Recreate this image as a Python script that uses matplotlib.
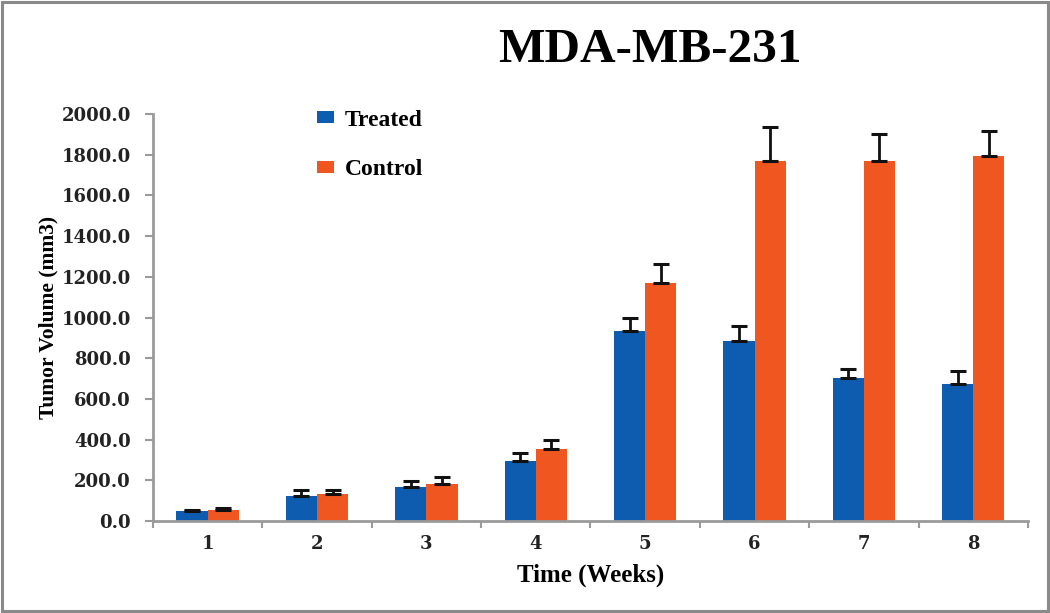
import matplotlib
matplotlib.use('Agg')
from matplotlib import pyplot as plt
from matplotlib.patches import Rectangle
import numpy as np

weeks = ['1', '2', '3', '4', '5', '6', '7', '8']
treated = [47, 125, 166, 297, 936, 887, 703, 673]
treated_err = [8, 30, 30, 36, 62, 70, 42, 62]
control = [56, 132, 180, 352, 1172, 1770, 1770, 1795]
control_err = [8, 23, 34, 48, 90, 165, 131, 123]

blue = '#0d5caf'
orange = '#f0561f'
serif = 'Liberation Serif'
tickfont = 'DejaVu Serif'

fig = plt.figure(figsize=(10.5, 6.13), dpi=100)
ax = fig.add_axes([0.1457, 0.150, 0.8333, 0.664])

x = np.arange(len(weeks))
w = 0.285
ax.bar(x - w/2, treated, w, color=blue, label='Treated', zorder=2)
ax.bar(x + w/2, control, w, color=orange, label='Control', zorder=2)
# only upper error shown (lower=0 still gives the cap at the bar top)
ax.errorbar(x - w/2, treated, yerr=[np.zeros(len(x)), treated_err], fmt='none',
            ecolor='#111111', elinewidth=2, capsize=5.5, capthick=2.2, zorder=3)
ax.errorbar(x + w/2, control, yerr=[np.zeros(len(x)), control_err], fmt='none',
            ecolor='#111111', elinewidth=2, capsize=5.5, capthick=2.2, zorder=3)

ax.set_xlim(-0.5, len(weeks) - 0.5)
ax.set_ylim(0, 2000)
ax.set_yticks(np.arange(0, 2001, 200))
ax.set_yticklabels(['%.1f' % v for v in np.arange(0, 2001, 200)])
ax.set_xticks(x)
ax.set_xticklabels(weeks)
ax.set_xticks(np.arange(-0.5, len(weeks)), minor=True)

for s in ['top', 'right']:
    ax.spines[s].set_visible(False)
for s in ['left', 'bottom']:
    ax.spines[s].set_color('#9a9a9a')
    ax.spines[s].set_linewidth(2)

ax.tick_params(axis='y', direction='out', length=6, width=1.5, color='#9a9a9a', pad=10)
ax.tick_params(axis='x', which='major', length=0, pad=10)
ax.tick_params(axis='x', which='minor', direction='out', length=5, width=1.5, color='#9a9a9a')
for lab in ax.get_yticklabels() + ax.get_xticklabels():
    lab.set_fontfamily(tickfont)
    lab.set_fontweight('bold')
    lab.set_fontsize(13)
    lab.set_color('#222222')

ax.set_xlabel('Time (Weeks)', fontfamily=serif, fontweight='bold', fontsize=18, labelpad=8)
ax.set_ylabel('Tumor Volume (mm3)', fontfamily=serif, fontweight='bold', fontsize=15.5, labelpad=2)

fig.text(0.619, 0.918, 'MDA-MB-231', fontfamily=serif, fontweight='bold', fontsize=35.5,
         ha='center', va='center')

ax.legend(loc='upper left', bbox_to_anchor=(0.291, 0.840), bbox_transform=fig.transFigure,
          frameon=False, prop={'family': serif, 'weight': 'bold', 'size': 17},
          handlelength=0.7, handleheight=0.4, handletextpad=0.45, labelspacing=1.2,
          borderpad=0)

fig.patches.append(Rectangle((0.002, 0.003), 0.996, 0.994, transform=fig.transFigure,
                             fill=False, edgecolor='#8a8a8a', linewidth=2.2))

plt.savefig('out.png', dpi=100)
